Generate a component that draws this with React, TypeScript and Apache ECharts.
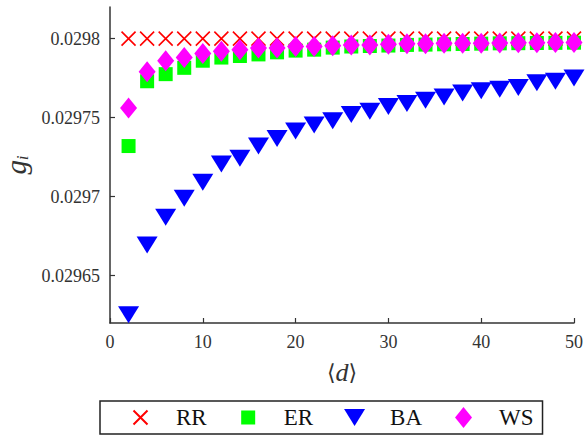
import React, { useEffect, useRef } from "react";
import * as echarts from "echarts";

const xValues = [2, 4, 6, 8, 10, 12, 14, 16, 18, 20, 22, 24, 26, 28, 30, 32, 34, 36, 38, 40, 42, 44, 46, 48, 50];
const rrValues = [0.0298, 0.0298, 0.0298, 0.0298, 0.0298, 0.0298, 0.0298, 0.0298, 0.0298, 0.0298, 0.0298, 0.0298, 0.0298, 0.0298, 0.0298, 0.0298, 0.0298, 0.0298, 0.0298, 0.0298, 0.0298, 0.0298, 0.0298, 0.0298, 0.0298];
const erValues = [0.029732, 0.029773, 0.0297775, 0.0297815, 0.029786, 0.029788, 0.029789, 0.02979, 0.0297913, 0.0297924, 0.029793, 0.0297943, 0.029795, 0.0297953, 0.0297956, 0.029796, 0.0297962, 0.0297964, 0.0297966, 0.0297968, 0.029797, 0.0297971, 0.0297972, 0.0297973, 0.0297974];
const baValues = [0.0296253, 0.0296694, 0.0296869, 0.029699, 0.0297091, 0.0297207, 0.0297243, 0.029732, 0.0297367, 0.0297415, 0.0297453, 0.029748, 0.029752, 0.029754, 0.029757, 0.029759, 0.029761, 0.029763, 0.0297655, 0.029767, 0.029768, 0.029769, 0.029772, 0.029773, 0.029775];
const wsValues = [0.029756, 0.029779, 0.029786, 0.029788, 0.0297905, 0.029792, 0.029793, 0.029794, 0.029794, 0.029795, 0.029795, 0.0297955, 0.029796, 0.029796, 0.0297965, 0.0297967, 0.0297968, 0.029797, 0.029797, 0.0297971, 0.0297972, 0.0297973, 0.0297974, 0.0297975, 0.0297975];

const seriesNames = ["RR", "ER", "BA", "WS"];
const yTickValues = [0.02965, 0.0297, 0.02975, 0.0298];
const yTickLabels = ["0.02965", "0.0297", "0.02975", "0.0298"];
const xTickLabels = ["0", "10", "20", "30", "40", "50"];

const FONT = "'Liberation Serif', 'Times New Roman', serif";
const AXIS_COLOR = "#333";

// legend icons, each padded to a common 21x21 box by bare moveTo points
const legendIcons = [
  "path://M0,0M21,21M3.5,3.5L17.5,17.5M17.5,3.5L3.5,17.5",
  "path://M0,0M21,21M3.5,3.5L17.5,3.5L17.5,17.5L3.5,17.5Z",
  "path://M0,0M21,21M0,2L21,2L10.5,19Z",
  "path://M0,0M21,21M2,10.5L10.5,0L19,10.5L10.5,21Z",
];

function pairs(vals: number[]) {
  return xValues.map((x, i) => [x, vals[i]]);
}

export default function App() {
  const ref = useRef<HTMLDivElement>(null);
  useEffect(() => {
    if (!ref.current) return;
    const chart = echarts.init(ref.current, null, { renderer: "svg" });
    chart.setOption({
      animation: false,
      backgroundColor: "#fff",
      textStyle: { fontFamily: FONT },
      grid: { left: 110, right: 11, top: 7, bottom: 113, containLabel: false, outerBoundsMode: "none" },
      xAxis: {
        type: "value",
        min: 0,
        max: 50,
        interval: 10,
        name: "{a|⟨}{b|d}{a|⟩}",
        nameLocation: "middle",
        nameGap: 36,
        nameTextStyle: {
          rich: {
            a: { fontFamily: "'DejaVu Serif', serif", fontSize: 22, color: AXIS_COLOR },
            b: { fontFamily: FONT, fontSize: 26, fontStyle: "italic", color: AXIS_COLOR },
          },
        },
        axisLine: { show: true, lineStyle: { color: AXIS_COLOR, width: 1.5 } },
        axisTick: { show: true, inside: true, length: 5, lineStyle: { color: AXIS_COLOR, width: 1.2 } },
        splitLine: { show: false },
        axisLabel: {
          margin: 10,
          fontFamily: FONT,
          fontSize: 18,
          color: AXIS_COLOR,
          formatter: (v: number) => xTickLabels[Math.round(v / 10)] ?? String(v),
        },
      },
      yAxis: {
        type: "value",
        min: 0.02962,
        max: 0.02982,
        name: "{g|g}{i|i}",
        nameLocation: "middle",
        nameGap: 79,
        nameRotate: 90,
        nameTextStyle: {
          rich: {
            g: { fontFamily: FONT, fontSize: 29, fontStyle: "italic", color: AXIS_COLOR, lineHeight: 30 },
            i: { fontFamily: FONT, fontSize: 17, fontStyle: "italic", color: AXIS_COLOR, verticalAlign: "bottom", lineHeight: 14 },
          },
        },
        axisLine: { show: true, lineStyle: { color: AXIS_COLOR, width: 1.5 } },
        axisTick: { show: true, inside: true, length: 5, customValues: yTickValues, lineStyle: { color: AXIS_COLOR, width: 1.2 } },
        splitLine: { show: false },
        axisLabel: {
          margin: 10,
          fontFamily: FONT,
          fontSize: 18,
          color: AXIS_COLOR,
          customValues: yTickValues,
          formatter: (v: number) => {
            let best = 0;
            for (let k = 0; k < yTickValues.length; k++) {
              if (Math.abs(yTickValues[k] - v) < Math.abs(yTickValues[best] - v)) best = k;
            }
            return yTickLabels[best];
          },
        },
      },
      legend: {
        left: 100,
        top: 401,
        orient: "horizontal",
        padding: [5, 9, 5, 29],
        itemWidth: 21,
        itemHeight: 21,
        itemGap: 31,
        symbolRotate: 0,
        borderColor: "#222",
        borderWidth: 1.5,
        borderRadius: 0,
        backgroundColor: "#fff",
        textStyle: { fontFamily: FONT, fontSize: 23, color: "#111", padding: [0, 0, 0, 20] },
        data: seriesNames.map((n, i) => ({ name: n, icon: legendIcons[i] })),
      },
      series: [
        {
          name: seriesNames[0],
          type: "scatter",
          data: pairs(rrValues),
          symbol: "path://M0,0L10,10M10,0L0,10",
          symbolSize: 14,
          itemStyle: { color: "#ff0000", borderColor: "#ff0000", borderWidth: 1.6, opacity: 1 },
        },
        {
          name: seriesNames[1],
          type: "scatter",
          data: pairs(erValues),
          symbol: "rect",
          symbolSize: 14,
          itemStyle: { color: "#00ff00", opacity: 1 },
        },
        {
          name: seriesNames[2],
          type: "scatter",
          data: pairs(baValues),
          symbol: "triangle",
          symbolRotate: 180,
          symbolSize: [21, 17],
          itemStyle: { color: "#0000ff", opacity: 1 },
        },
        {
          name: seriesNames[3],
          type: "scatter",
          data: pairs(wsValues),
          symbol: "diamond",
          symbolSize: [17, 21],
          itemStyle: { color: "#ff00ff", opacity: 1 },
        },
      ],
    });
    return () => chart.dispose();
  }, []);
  return <div ref={ref} style={{ position: "fixed", left: 0, top: 0, width: 585, height: 436 }} />;
}
